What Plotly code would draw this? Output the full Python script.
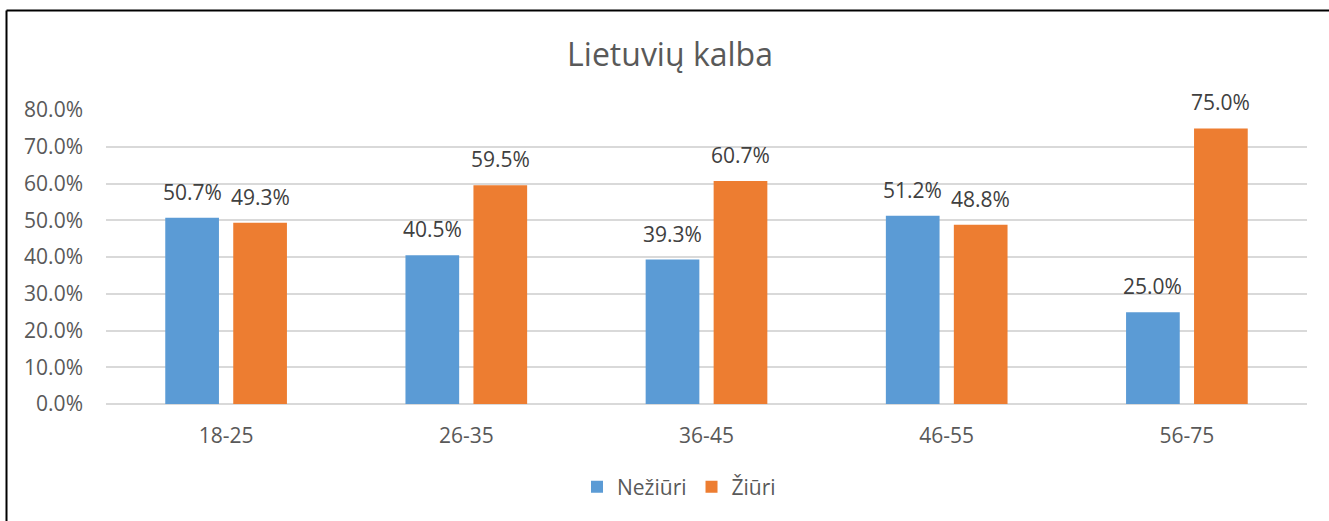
import plotly.graph_objects as go

categories = ["18-25", "26-35", "36-45", "46-55", "56-75"]
nezuri = [0.507, 0.405, 0.393, 0.512, 0.250]
ziuri = [0.493, 0.595, 0.607, 0.488, 0.750]
series_names = ["Nežiūri", "Žiūri"]
colors = ["#5B9BD5", "#ED7D31"]

W, H = 1329, 521
ML, MR, MT, MB = 106, 22, 110, 117
FONT = "Open Sans"

fig = go.Figure()
for name, vals, col in zip(series_names, [nezuri, ziuri], colors):
    fig.add_trace(go.Bar(x=categories, y=vals, name=name, marker_color=col,
                         marker_line_width=0))

plot_w = W - ML - MR
cat_w = plot_w / len(categories)
bargap = 0.434
slot = cat_w * (1 - bargap) / 2
annotations = []
for i, vals in enumerate([nezuri, ziuri]):
    shift = (i - 0.5) * slot
    for c, v in zip(categories, vals):
        annotations.append(dict(x=c, y=v, xref="x", yref="y", text=f"{v*100:.1f}%",
                                showarrow=False, yanchor="bottom", xshift=shift, yshift=10,
                                font=dict(family=FONT, size=21, color="#404040")))

plot_h = H - MT - MB
x_left = (6.5 - ML) / plot_w
y_top = (H - MB - 10.5) / plot_h
shapes = [
    dict(type="line", xref="paper", yref="paper", x0=x_left, x1=x_left, y0=-1, y1=y_top,
         line=dict(color="black", width=2)),
    dict(type="line", xref="paper", yref="paper", x0=x_left, x1=1.2, y0=y_top, y1=y_top,
         line=dict(color="black", width=2)),
]

fig.update_layout(
    width=W, height=H,
    margin=dict(l=ML, r=MR, t=MT, b=MB),
    paper_bgcolor="white", plot_bgcolor="white",
    barmode="group", bargap=bargap, bargroupgap=0.21,
    font=dict(family=FONT, size=21, color="#595959"),
    title=dict(text="Lietuvių kalba", x=670 / W, xanchor="center", y=1 - 55 / H,
               yanchor="middle", yref="container",
               font=dict(family=FONT, size=32, color="#595959")),
    legend=dict(orientation="h", x=(679 - ML) / plot_w, xanchor="center",
                y=(H - MB - 487) / plot_h, yanchor="middle",
                font=dict(family=FONT, size=21, color="#595959"),
                itemclick=False),
    xaxis=dict(showgrid=False, showline=False, ticks="", ticklabelstandoff=17,
               tickfont=dict(family=FONT, size=21, color="#595959")),
    yaxis=dict(range=[0, 0.8], dtick=0.1, tickformat=".1%", showgrid=True,
               gridcolor="#D9D9D9", gridwidth=1.5, zeroline=True, zerolinecolor="#D9D9D9",
               zerolinewidth=1.5, ticks="", ticklabelstandoff=22,
               tickfont=dict(family=FONT, size=21, color="#595959")),
    annotations=annotations,
    shapes=shapes,
)

fig.write_html("out.html", config={"displayModeBar": False},
               post_script="document.body.style.margin='0';document.body.style.padding='0';")
